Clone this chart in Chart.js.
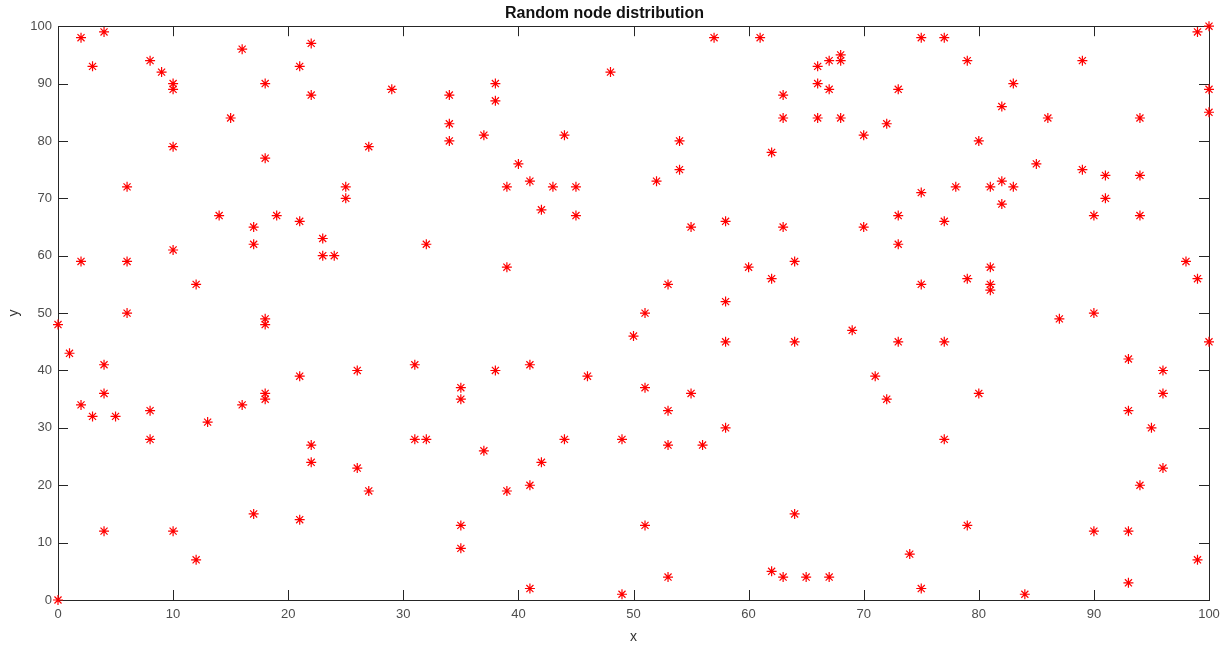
<!DOCTYPE html>
<html>
<head>
<meta charset="utf-8">
<title>Random node distribution</title>
<script src="https://cdn.jsdelivr.net/npm/chart.js@4.4.0/dist/chart.umd.min.js"></script>
<style>
    html, body { margin: 0; padding: 0; background: #fff; }
    #wrap { width: 1227px; height: 649px; }
</style>
</head>
<body>
<div id="wrap"><canvas id="nodeChart"></canvas></div>
<script>
// node coordinates, grouped by x range
const nodeX = [
    0, 0, 1, 2, 2, 2, 3, 3, 4, 4, 4, 4, 5, 6, 6, 6, 8, 8, 8, 9, 10, 10, 10, 10, 10, 12, 12, 13, 14, 15, 16, 16, 17, 17, 17, 18, 18, 18, 18, 18, 18, 19,
    21, 21, 21, 21, 22, 22, 22, 22, 23, 23, 24, 25, 25, 26, 26, 27, 27, 29, 31, 31, 32, 32, 34, 34, 34, 35, 35, 35, 35, 37, 37, 38, 38, 38, 39, 39, 39,
    40, 41, 41, 41, 41, 42, 42, 43, 44, 44, 45, 45, 46, 48, 49, 49, 50, 51, 51, 51, 52, 53, 53, 53, 53, 54, 54, 55, 55, 56, 57, 58, 58, 58, 58,
    60, 61, 62, 62, 62, 63, 63, 63, 63, 64, 64, 64, 65, 66, 66, 66, 67, 67, 67, 68, 68, 68, 69, 70, 70, 71, 72, 72, 73, 73, 73, 73, 74, 75, 75, 75, 75, 77, 77, 77, 77, 78, 79, 79, 79,
    80, 80, 81, 81, 81, 81, 82, 82, 82, 83, 83, 84, 85, 86, 87, 89, 89, 90, 90, 90, 91, 91, 93, 93, 93, 93, 94, 94, 94, 94, 95, 96, 96, 96, 98, 99, 99, 99, 100, 100, 100, 100
];
const nodeY = [
    48, 0, 43, 98, 59, 34, 93, 32, 99, 41, 36, 12, 32, 72, 59, 50, 94, 33, 28, 92, 90, 89, 79, 61, 12, 55, 7, 31, 67, 84, 96, 34, 65, 62, 15, 90, 77, 49, 48, 36, 35, 67,
    93, 66, 39, 14, 97, 88, 27, 24, 63, 60, 60, 72, 70, 40, 23, 79, 19, 89, 41, 28, 62, 28, 88, 83, 80, 37, 35, 13, 9, 81, 26, 90, 87, 40, 72, 58, 19,
    76, 73, 41, 20, 2, 68, 24, 72, 81, 28, 72, 67, 39, 92, 28, 1, 46, 50, 37, 13, 73, 55, 33, 27, 4, 80, 75, 65, 36, 27, 98, 66, 52, 45, 30,
    58, 98, 78, 56, 5, 88, 84, 65, 4, 59, 45, 15, 4, 93, 90, 84, 94, 89, 4, 95, 94, 84, 47, 81, 65, 39, 83, 35, 89, 67, 62, 45, 8, 98, 71, 55, 2, 98, 66, 45, 28, 72, 94, 56, 13,
    80, 36, 72, 58, 55, 54, 86, 73, 69, 90, 72, 1, 76, 84, 49, 94, 75, 67, 50, 12, 74, 70, 42, 33, 12, 3, 84, 74, 67, 20, 30, 40, 36, 23, 59, 99, 56, 7, 100, 89, 85, 45
];
const axisMin = 0;
const axisMax = 100;
const tickStep = 10;

const FONT = 'Arial, "Liberation Sans", Helvetica, sans-serif';
const TICK_LEN = 10;

// matlab style box with inward ticks on all four sides
const boxTicks = {
    id: 'boxTicks',
    beforeDatasetsDraw(chart) {
        const {ctx, chartArea: a, scales: {x, y}} = chart;
        ctx.save();
        ctx.strokeStyle = '#262626';
        ctx.lineWidth = 1;
        ctx.beginPath();
        x.ticks.forEach(t => {
            const px = Math.round(x.getPixelForValue(t.value)) + 0.5;
            ctx.moveTo(px, a.bottom);
            ctx.lineTo(px, a.bottom - TICK_LEN);
            ctx.moveTo(px, a.top);
            ctx.lineTo(px, a.top + TICK_LEN);
        });
        y.ticks.forEach(t => {
            const py = Math.round(y.getPixelForValue(t.value)) + 0.5;
            ctx.moveTo(a.left, py);
            ctx.lineTo(a.left + TICK_LEN, py);
            ctx.moveTo(a.right, py);
            ctx.lineTo(a.right - TICK_LEN, py);
        });
        ctx.stroke();
        ctx.strokeRect(Math.round(a.left) + 0.5, Math.round(a.top) + 0.5,
            Math.round(a.right - a.left), Math.round(a.bottom - a.top));
        ctx.restore();
    }
};

const points = nodeX.map((v, i) => ({x: v, y: nodeY[i]}));

new Chart(document.getElementById('nodeChart'), {
    type: 'scatter',
    data: {
        datasets: [{
            label: 'nodes',
            data: points,
            pointStyle: 'star',
            pointRadius: 5,
            pointBorderWidth: 1.2,
            borderColor: '#ff0000',
            backgroundColor: '#ff0000',
            clip: false
        }]
    },
    options: {
        responsive: true,
        maintainAspectRatio: false,
        animation: false,
        layout: {
            padding: {left: 0, right: 18, top: 0, bottom: 0}
        },
        scales: {
            x: {
                type: 'linear',
                min: axisMin,
                max: axisMax,
                grid: {display: false, drawTicks: false},
                border: {display: false},
                ticks: {
                    stepSize: tickStep,
                    padding: 7,
                    color: '#4d4d4d',
                    font: {family: FONT, size: 13}
                },
                title: {
                    display: true,
                    text: 'x',
                    color: '#333',
                    font: {family: FONT, size: 14},
                    padding: {top: 0, bottom: 3}
                },
                afterFit(scale) { scale.height = 49; }
            },
            y: {
                type: 'linear',
                min: axisMin,
                max: axisMax,
                grid: {display: false, drawTicks: false},
                border: {display: false},
                ticks: {
                    stepSize: tickStep,
                    padding: 6,
                    color: '#4d4d4d',
                    font: {family: FONT, size: 13}
                },
                title: {
                    display: true,
                    text: 'y',
                    color: '#333',
                    font: {family: FONT, size: 14},
                    padding: {top: 6, bottom: 0}
                },
                afterFit(scale) { scale.width = 58; }
            }
        },
        plugins: {
            legend: {display: false},
            tooltip: {enabled: false},
            title: {
                display: true,
                text: 'Random node distribution',
                color: '#111',
                font: {family: FONT, size: 16, weight: 'bold'},
                padding: {top: 4, bottom: 3}
            }
        }
    },
    plugins: [boxTicks]
});
</script>
</body>
</html>
